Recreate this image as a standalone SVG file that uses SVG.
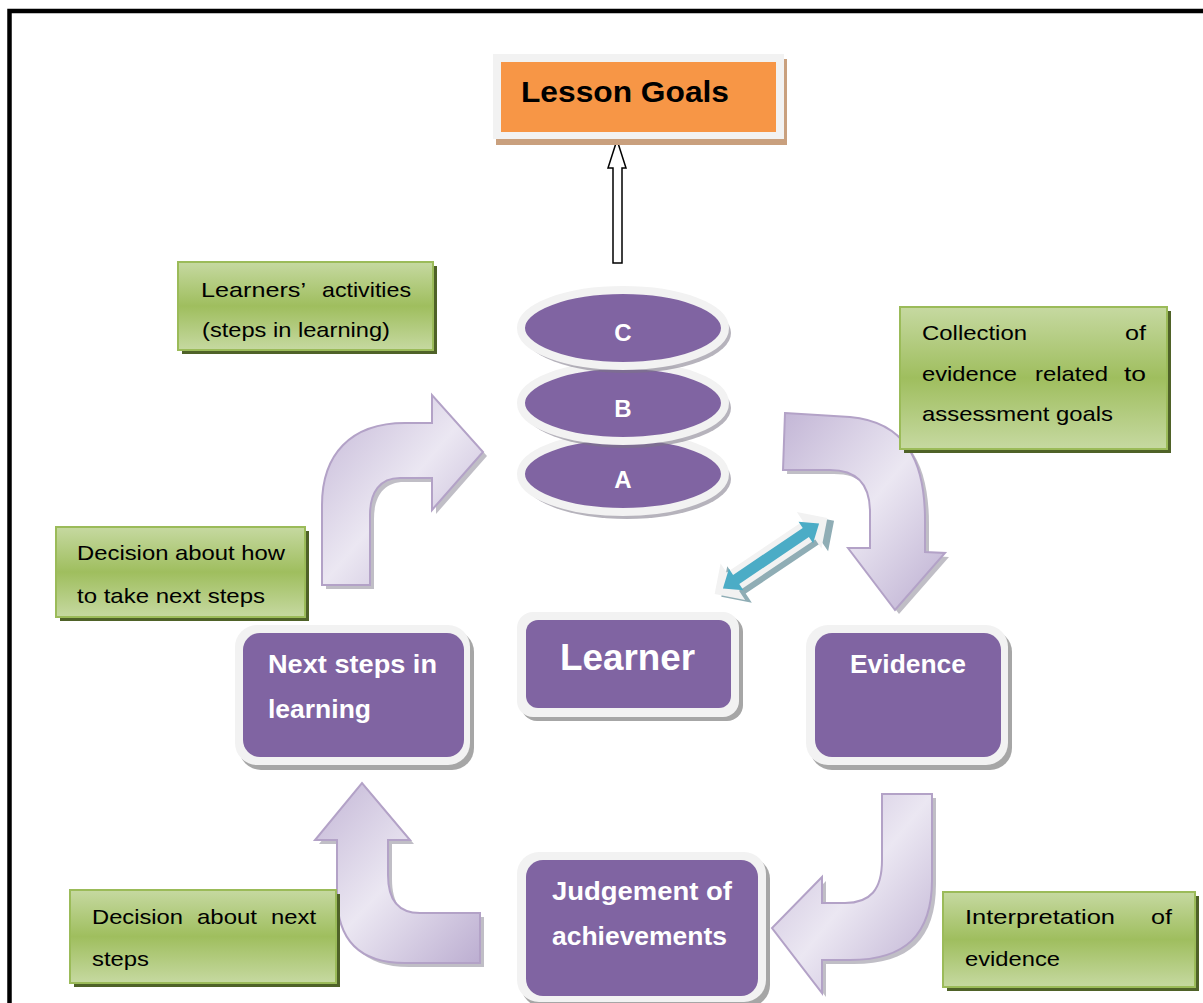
<svg xmlns="http://www.w3.org/2000/svg" width="1203" height="1003" viewBox="0 0 1203 1003">
  <defs>
    <linearGradient id="gGreen" x1="0" y1="0" x2="0" y2="1">
      <stop offset="0" stop-color="#c6d9a1"/>
      <stop offset="0.5" stop-color="#9fbe5e"/>
      <stop offset="1" stop-color="#c6d9a1"/>
    </linearGradient>
    <linearGradient id="gLav" x1="0" y1="0" x2="1" y2="1">
      <stop offset="0" stop-color="#c3b6d6"/>
      <stop offset="0.5" stop-color="#ebe7f2"/>
      <stop offset="1" stop-color="#bcaed1"/>
    </linearGradient>
    <style>
      .frame { fill: #f2f2f2; }
      .pshadow { fill: #a6a6a6; }
      .purple { fill: #8064a2; }
      .gbox { fill: url(#gGreen); stroke: #9bbb59; stroke-width: 2; }
      .gshadow { fill: #4f6228; }
      .gtext { font-family: "Liberation Sans", Arial, sans-serif; font-size: 21px; fill: #000; }
      .ptext { font-family: "Liberation Sans", Arial, sans-serif; font-weight: bold; font-size: 25px; fill: #fff; }
      .ptext.big { font-size: 37px; }
      .ptext.lvl { font-size: 24px; }
      .arrow { fill: url(#gLav); stroke: #b3a2c7; stroke-width: 2; stroke-linejoin: miter; }
      .ashadow { fill: #8d8898; opacity: 0.55; }
      .rim { fill: #8064a2; stroke: #f2f2f2; stroke-width: 8; }
      .rimshadow { fill: #7a7585; opacity: 0.55; }
    </style>
  </defs>

  <rect width="1203" height="1003" fill="#fff"/>
  <!-- page border -->
  <rect x="9.5" y="11" width="1300" height="1100" fill="none" stroke="#000" stroke-width="4.5"/>

  <!-- curved cycle arrows -->
  <g id="connectors">
    <!-- up and right, toward the level stack -->
    <path class="ashadow" transform="translate(4,4)" d="M322,585 L322,505 C322,455 350,423 405,423 L432,423 L432,395 L483,452 L432,510 L432,478 L400,478 C380,478 370,492 370,515 L370,585 Z"/>
    <path class="arrow" d="M322,585 L322,505 C322,455 350,423 405,423 L432,423 L432,395 L483,452 L432,510 L432,478 L400,478 C380,478 370,492 370,515 L370,585 Z"/>
    <!-- right and down, toward Evidence -->
    <path class="ashadow" transform="translate(4,4)" d="M785,413 L850,417 C905,422 925,460 925,520 L925,552 L945,553 L895,610 L848,548 L870,548 L870,512 C870,485 858,470 830,470 L783,470 Z"/>
    <path class="arrow" d="M785,413 L850,417 C905,422 925,460 925,520 L925,552 L945,553 L895,610 L848,548 L870,548 L870,512 C870,485 858,470 830,470 L783,470 Z"/>
    <!-- down and left, toward Judgement -->
    <path class="ashadow" transform="translate(4,4)" d="M882,794 L932,794 L932,880 C932,935 905,960 850,960 L822,960 L822,993 L772,928 L822,877 L822,903 L845,903 C870,903 882,890 882,860 Z"/>
    <path class="arrow" d="M882,794 L932,794 L932,880 C932,935 905,960 850,960 L822,960 L822,993 L772,928 L822,877 L822,903 L845,903 C870,903 882,890 882,860 Z"/>
    <!-- left and up, toward Next steps -->
    <path class="ashadow" transform="translate(4,4)" d="M480,913 L420,913 C398,913 388,900 388,875 L388,840 L410,840 L362,783 L315,840 L337,840 L337,895 C337,940 360,963 405,963 L480,963 Z"/>
    <path class="arrow" d="M480,913 L420,913 C398,913 388,900 388,875 L388,840 L410,840 L362,783 L315,840 L337,840 L337,895 C337,940 360,963 405,963 L480,963 Z"/>

    <!-- hollow arrow up to the goals -->
    <path d="M613,263 L622,263 L622,168 L626,168 L617,140 L608,168 L613,168 Z" fill="#fff" stroke="#000" stroke-width="1.5"/>

    <!-- double-headed arrow between learner and the evidence loop -->
    <g transform="translate(771,556) rotate(-34)">
      <path transform="translate(4,6)" d="M-68,0 L-46,-22 L-46,-11 L46,-11 L46,-22 L68,0 L46,22 L46,11 L-46,11 L-46,22 Z" fill="#8fadb5"/>
      <path d="M-68,0 L-46,-22 L-46,-11 L46,-11 L46,-22 L68,0 L46,22 L46,11 L-46,11 L-46,22 Z" fill="#f2f2f2"/>
      <path d="M-58,0 L-42,-13 L-42,-5.5 L42,-5.5 L42,-13 L58,0 L42,13 L42,5.5 L-42,5.5 L-42,13 Z" fill="#4bacc6"/>
    </g>
  </g>

  <!-- Lesson Goals -->
  <g id="lesson-goals">
    <rect x="496" y="59" width="291" height="86" fill="#c9a07e"/>
    <rect class="frame" x="493" y="54" width="291" height="85"/>
    <rect x="501" y="62" width="275" height="70" fill="#f79646"/>
    <text x="521" y="102" font-family="Liberation Sans, Arial, sans-serif" font-weight="bold" font-size="30" textLength="208" lengthAdjust="spacingAndGlyphs">Lesson Goals</text>
  </g>

  <!-- stacked levels A, B, C -->
  <g id="level-a">
    <ellipse class="rimshadow" cx="627" cy="479" rx="104" ry="40"/>
    <ellipse class="rim" cx="623" cy="474" rx="102" ry="38"/>
    <text x="623" y="488" text-anchor="middle" class="ptext lvl">A</text>
  </g>
  <g id="level-b">
    <ellipse class="rimshadow" cx="627" cy="408" rx="104" ry="40"/>
    <ellipse class="rim" cx="623" cy="403" rx="102" ry="38"/>
    <text x="623" y="417" text-anchor="middle" class="ptext lvl">B</text>
  </g>
  <g id="level-c">
    <ellipse class="rimshadow" cx="627" cy="333" rx="104" ry="40"/>
    <ellipse class="rim" cx="623" cy="328" rx="102" ry="38"/>
    <text x="623" y="341" text-anchor="middle" class="ptext lvl">C</text>
  </g>

  <!-- Learner -->
  <g id="learner">
    <rect class="pshadow" x="521" y="616" width="222" height="105" rx="16"/>
    <rect class="frame" x="517" y="612" width="222" height="105" rx="16"/>
    <rect class="purple" x="526" y="620" width="205" height="88" rx="12"/>
    <text x="560" y="670" class="ptext big" textLength="135" lengthAdjust="spacingAndGlyphs">Learner</text>
  </g>

  <!-- Next steps in learning -->
  <g id="next-steps">
    <rect class="pshadow" x="239" y="630" width="235" height="140" rx="22"/>
    <rect class="frame" x="235" y="625" width="235" height="140" rx="22"/>
    <rect class="purple" x="243" y="633" width="221" height="124" rx="17"/>
    <text x="268" y="673" class="ptext" textLength="169" lengthAdjust="spacingAndGlyphs">Next steps in</text>
    <text x="268" y="718" class="ptext" textLength="103" lengthAdjust="spacingAndGlyphs">learning</text>
  </g>

  <!-- Evidence -->
  <g id="evidence">
    <rect class="pshadow" x="810" y="630" width="202" height="140" rx="22"/>
    <rect class="frame" x="806" y="625" width="202" height="140" rx="22"/>
    <rect class="purple" x="815" y="633" width="186" height="124" rx="17"/>
    <text x="850" y="673" class="ptext" textLength="116" lengthAdjust="spacingAndGlyphs">Evidence</text>
  </g>

  <!-- Judgement of achievements -->
  <g id="judgement">
    <rect class="pshadow" x="521" y="857" width="249" height="150" rx="22"/>
    <rect class="frame" x="517" y="852" width="249" height="150" rx="22"/>
    <rect class="purple" x="526" y="860" width="232" height="136" rx="17"/>
    <text x="552" y="900" class="ptext" textLength="180" lengthAdjust="spacingAndGlyphs">Judgement  of</text>
    <text x="552" y="945" class="ptext" textLength="175" lengthAdjust="spacingAndGlyphs">achievements</text>
  </g>

  <!-- note: learners' activities -->
  <g id="note-activities">
    <rect class="gshadow" x="182" y="266" width="255" height="88"/>
    <rect class="gbox" x="178" y="262" width="255" height="88"/>
    <text class="gtext" x="201" y="297" textLength="105" lengthAdjust="spacingAndGlyphs">Learners’</text>
    <text class="gtext" x="322" y="297" textLength="89" lengthAdjust="spacingAndGlyphs">activities</text>
    <text class="gtext" x="202" y="337" textLength="188" lengthAdjust="spacingAndGlyphs">(steps in learning)</text>
  </g>

  <!-- note: collection of evidence -->
  <g id="note-collection">
    <rect class="gshadow" x="904" y="311" width="267" height="142"/>
    <rect class="gbox" x="900" y="307" width="267" height="142"/>
    <text class="gtext" x="922" y="340" textLength="105" lengthAdjust="spacingAndGlyphs">Collection</text>
    <text class="gtext" x="1125" y="340" textLength="21" lengthAdjust="spacingAndGlyphs">of</text>
    <text class="gtext" x="922" y="381" textLength="95" lengthAdjust="spacingAndGlyphs">evidence</text>
    <text class="gtext" x="1035" y="381" textLength="73" lengthAdjust="spacingAndGlyphs">related</text>
    <text class="gtext" x="1124" y="381" textLength="22" lengthAdjust="spacingAndGlyphs">to</text>
    <text class="gtext" x="922" y="421" textLength="191" lengthAdjust="spacingAndGlyphs">assessment goals</text>
  </g>

  <!-- note: decision about how -->
  <g id="note-decision-how">
    <rect class="gshadow" x="60" y="531" width="249" height="90"/>
    <rect class="gbox" x="56" y="527" width="249" height="90"/>
    <text class="gtext" x="77" y="560" textLength="208" lengthAdjust="spacingAndGlyphs">Decision about how</text>
    <text class="gtext" x="77" y="603" textLength="188" lengthAdjust="spacingAndGlyphs">to take next steps</text>
  </g>

  <!-- note: decision about next steps -->
  <g id="note-decision-next">
    <rect class="gshadow" x="74" y="894" width="266" height="93"/>
    <rect class="gbox" x="70" y="890" width="266" height="93"/>
    <text class="gtext" x="92" y="924" textLength="91" lengthAdjust="spacingAndGlyphs">Decision</text>
    <text class="gtext" x="197" y="924" textLength="60" lengthAdjust="spacingAndGlyphs">about</text>
    <text class="gtext" x="271" y="924" textLength="45" lengthAdjust="spacingAndGlyphs">next</text>
    <text class="gtext" x="92" y="966" textLength="57" lengthAdjust="spacingAndGlyphs">steps</text>
  </g>

  <!-- note: interpretation of evidence -->
  <g id="note-interpretation">
    <rect class="gshadow" x="947" y="896" width="252" height="95"/>
    <rect class="gbox" x="943" y="892" width="252" height="95"/>
    <text class="gtext" x="965" y="924" textLength="150" lengthAdjust="spacingAndGlyphs">Interpretation</text>
    <text class="gtext" x="1151" y="924" textLength="21" lengthAdjust="spacingAndGlyphs">of</text>
    <text class="gtext" x="965" y="966" textLength="95" lengthAdjust="spacingAndGlyphs">evidence</text>
  </g>
</svg>
